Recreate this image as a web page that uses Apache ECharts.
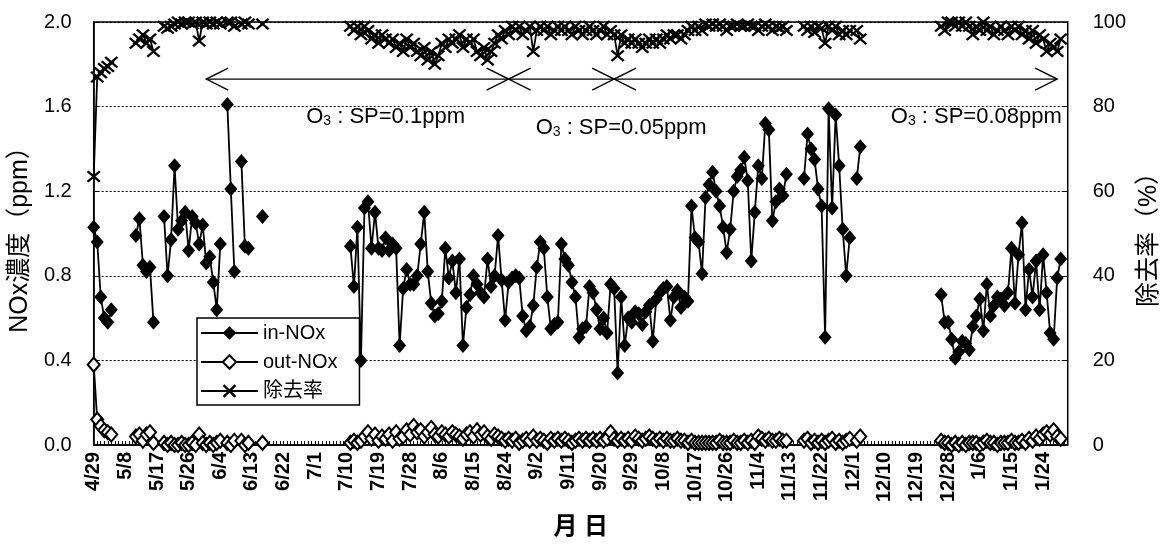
<!DOCTYPE html>
<html>
<head>
<meta charset="utf-8">
<title>NOx濃度と除去率</title>
<script src="https://cdn.jsdelivr.net/npm/echarts@6/dist/echarts.min.js"></script>
<style>
  html, body { margin: 0; padding: 0; background: #fff; }
  #chart { width: 1170px; height: 545px; }
</style>
</head>
<body>
<div id="chart"></div>
<script>
const FONT = "'Liberation Sans', Arial, 'Noto Sans CJK JP', sans-serif"

// one category per day, day 0 = 4/29
const dayCount = 278
const tickLabels = ['4/29', '5/8', '5/17', '5/26', '6/4', '6/13', '6/22', '7/1', '7/10', '7/19',
  '7/28', '8/6', '8/15', '8/24', '9/2', '9/11', '9/20', '9/29', '10/8', '10/17', '10/26',
  '11/4', '11/13', '11/22', '12/1', '12/10', '12/19', '12/28', '1/6', '1/15', '1/24']

// runs of daily values: [start day, values]
const inNOx = [
  [0, [1.03, 0.96, 0.70, 0.60, 0.58, 0.64]],
  [12, [0.99, 1.07, 0.85, 0.82, 0.84, 0.58]],
  [20, [1.08, 0.80, 0.97, 1.32, 1.02, 1.06, 1.10, 0.92, 1.08, 1.05, 0.95, 1.04, 0.86, 0.89, 0.77, 0.64, 0.95]],
  [38, [1.61, 1.21, 0.82]],
  [42, [1.34, 0.94, 0.93]],
  [48, [1.08]],
  [73, [0.94, 0.75, 1.03, 0.40, 1.12, 1.15, 0.93, 1.10, 0.93, 0.92,
        0.98, 0.92, 0.95, 0.93, 0.47, 0.74, 0.83, 0.76, 0.76, 0.80,
        0.95, 1.10, 0.82, 0.67, 0.61, 0.62, 0.68, 0.93, 0.79, 0.87,
        0.72, 0.88, 0.47, 0.65, 0.71, 0.80, 0.76, 0.72, 0.70, 0.88,
        0.75, 0.80, 0.99, 0.78, 0.59, 0.77, 0.79, 0.80, 0.79, 0.61,
        0.54, 0.56, 0.66, 0.84, 0.96, 0.93, 0.70, 0.55, 0.57, 0.58,
        0.95, 0.88, 0.85, 0.77, 0.70, 0.51, 0.55, 0.56, 0.75, 0.72,
        0.64, 0.55, 0.60, 0.53, 0.76, 0.74, 0.34, 0.70, 0.47, 0.60,
        0.58, 0.63, 0.62, 0.57, 0.63, 0.66, 0.49, 0.69, 0.72, 0.74,
        0.75, 0.59, 0.70, 0.73, 0.65, 0.70, 0.68, 1.13, 0.98, 0.96,
        0.81, 1.17, 1.23, 1.29, 1.20, 1.13, 1.03, 0.91, 1.02, 1.20,
        1.27, 1.30, 1.36, 1.25, 0.87, 1.10, 1.32, 1.26, 1.52, 1.49,
        1.06, 1.15, 1.21, 1.18, 1.28]],
  [202, [1.26, 1.47, 1.40, 1.35, 1.21, 1.13, 0.51, 1.59, 1.12, 1.56, 1.32, 1.02, 0.80, 0.98]],
  [217, [1.26, 1.41]],
  [241, [0.71, 0.58, 0.58, 0.50, 0.41, 0.44, 0.49, 0.48, 0.45, 0.56,
         0.61, 0.69, 0.54, 0.76, 0.61, 0.66, 0.70, 0.69, 0.66, 0.72,
         0.93, 0.67, 0.90, 1.05, 0.64, 0.83, 0.70, 0.87, 0.64, 0.90,
         0.72, 0.53, 0.50, 0.79, 0.88]]
]

const outNOx = [
  [0, [0.38, 0.12, 0.09, 0.07, 0.06, 0.05]],
  [12, [0.04, 0.05, 0.02, 0.05, 0.06, 0.01]],
  [20, [0.01, 0.00, 0.01, 0.00, 0.00, 0.01, 0.00, 0.00, 0.01, 0.00, 0.05, 0.01, 0.00, 0.01, 0.00, 0.01, 0.02]],
  [38, [0.01, 0.00, 0.02]],
  [42, [0.02, 0.00, 0.01]],
  [48, [0.01]],
  [73, [0.01, 0.02, 0.01, 0.02, 0.04, 0.06, 0.03, 0.05, 0.02, 0.04,
        0.03, 0.05, 0.02, 0.06, 0.03, 0.04, 0.07, 0.05, 0.09, 0.06,
        0.07, 0.04, 0.06, 0.08, 0.05, 0.04, 0.06, 0.05, 0.04, 0.06,
        0.05, 0.04, 0.03, 0.05, 0.06, 0.04, 0.07, 0.05, 0.06, 0.04,
        0.03, 0.05, 0.04, 0.03, 0.02, 0.03, 0.02, 0.03, 0.01, 0.02,
        0.03, 0.02, 0.04, 0.02, 0.03, 0.02, 0.01, 0.03, 0.02, 0.03,
        0.02, 0.03, 0.02, 0.01, 0.02, 0.03, 0.02, 0.03, 0.02, 0.03,
        0.02, 0.03, 0.02, 0.03, 0.06, 0.03, 0.02, 0.03, 0.02, 0.03,
        0.02, 0.04, 0.03, 0.02, 0.03, 0.04, 0.03, 0.02, 0.03, 0.02,
        0.03, 0.02, 0.02, 0.03, 0.02, 0.02, 0.01, 0.02, 0.01, 0.01,
        0.01, 0.01, 0.01, 0.01, 0.01, 0.02, 0.01, 0.01, 0.01, 0.02,
        0.01, 0.01, 0.02, 0.01, 0.02, 0.01, 0.04, 0.03, 0.02, 0.03,
        0.02, 0.02, 0.03, 0.02, 0.02]],
  [202, [0.02, 0.03, 0.01, 0.02, 0.01, 0.02, 0.01, 0.02, 0.03, 0.01, 0.02, 0.01, 0.02, 0.03]],
  [217, [0.02, 0.04]],
  [241, [0.02, 0.01, 0.01, 0.00, 0.01, 0.00, 0.01, 0.00, 0.01, 0.01,
         0.01, 0.00, 0.01, 0.02, 0.01, 0.01, 0.00, 0.01, 0.01, 0.01,
         0.02, 0.01, 0.01, 0.02, 0.01, 0.03, 0.02, 0.04, 0.03, 0.05,
         0.06, 0.05, 0.07, 0.04, 0.03]]
]

const removal = [
  [0, [63.5, 87, 88, 89, 89.5, 90.5]],
  [12, [95, 96, 97, 95, 96, 93]],
  [20, [99, 98.5, 99, 99.5, 100, 99.5, 100, 100, 99.5, 100, 95.5, 100, 99.5, 100, 99.5, 100, 99.5]],
  [38, [100, 100, 99]],
  [42, [99.5, 100, 99.5]],
  [48, [99.5]],
  [73, [99, 98, 99, 97, 99, 98, 96, 97, 95, 97,
        96, 95, 96, 94, 95, 93, 96, 94, 95, 93,
        92, 94, 91, 93, 90, 92, 95, 94, 96, 95,
        96, 97, 94, 96, 95, 96, 93, 92, 94, 91,
        93, 95, 97, 96, 98, 97, 99, 98, 99, 97,
        98, 99, 93, 98, 99, 98, 99, 97, 98, 99,
        98, 99, 98, 97, 99, 98, 97, 98, 99, 98,
        97, 98, 99, 97, 98, 97, 92, 97, 95, 96,
        95, 96, 95, 94, 95, 96, 95, 96, 95, 96,
        97, 96, 97, 97, 96, 97, 98, 99, 98, 99,
        98, 99.5, 99, 99.5, 99, 99.5, 99, 98, 99, 99,
        99.5, 99, 99, 99.5, 99, 99, 98, 99, 99.5, 99,
        98, 99, 98.5, 99, 98]],
  [202, [99, 98, 99, 97.5, 99, 98.5, 95, 99, 98, 99, 97, 98, 97, 98]],
  [217, [98, 96]],
  [241, [99, 98, 100, 100, 99, 100, 99, 100, 99, 97,
         99, 98, 100, 98, 99, 97, 98, 99, 98, 97,
         99, 98, 99, 97, 98, 96, 98, 95, 97, 96,
         93, 95, 94, 93, 96]]
]

// O3 set-point periods (day ranges) and their labels
const periods = [[32, 118], [118, 148], [148, 274]]
const periodLabels = ['0.1ppm', '0.05ppm', '0.08ppm']
const labelDays = [83, 150, 251]
const labelLevels = [1.55, 1.50, 1.55]
const arrowLevel = 1.73

function expand(runs) {
  const arr = new Array(dayCount).fill(null)
  runs.forEach(([start, vals]) => vals.forEach((v, i) => { arr[start + i] = v }))
  return arr
}

const days = []
for (let i = 0; i < dayCount; i++) days.push(i)

const xMark = 'path://M0,1.5L1.5,0L6,4.5L10.5,0L12,1.5L7.5,6L12,10.5L10.5,12L6,7.5L1.5,12L0,10.5L4.5,6Z'

const chart = echarts.init(document.getElementById('chart'))

chart.setOption({
  animation: false,
  backgroundColor: '#fff',
  textStyle: { fontFamily: FONT, color: '#000' },
  grid: {
    left: 93, right: 98, top: 22, bottom: 100,
    show: true, borderColor: '#000', borderWidth: 1.5
  },
  legend: {
    orient: 'vertical',
    left: 197,
    top: 318,
    itemWidth: 57,
    itemHeight: 17,
    itemGap: 9,
    padding: [5, 22, 4, 3],
    borderColor: '#000',
    borderWidth: 1.5,
    backgroundColor: '#fff',
    textStyle: { fontSize: 20, lineHeight: 20, color: '#000', fontFamily: FONT },
    data: ['in-NOx', 'out-NOx', '除去率']
  },
  xAxis: {
    type: 'category',
    data: days,
    boundaryGap: false,
    name: '月 日',
    nameLocation: 'middle',
    nameGap: 70,
    nameTextStyle: { fontSize: 24, fontWeight: 'bold', color: '#000' },
    axisLine: { lineStyle: { color: '#000', width: 1.5 } },
    axisTick: { inside: true, length: 4, interval: 0, lineStyle: { color: '#000' } },
    axisLabel: {
      interval: 8,
      rotate: 90,
      margin: 7,
      fontSize: 20,
      fontWeight: 'bold',
      color: '#000',
      formatter: (v, i) => tickLabels[i / 9] || ''
    },
    splitLine: { show: false }
  },
  yAxis: [{
    type: 'value',
    min: 0, max: 2.0, interval: 0.4,
    name: 'NOx濃度（ppm）',
    nameLocation: 'middle',
    nameRotate: 90,
    nameGap: 58,
    nameTextStyle: { fontSize: 25, color: '#000' },
    axisLine: { show: true, lineStyle: { color: '#000', width: 1.5 } },
    axisTick: { show: true, inside: true, length: 5, lineStyle: { color: '#000' } },
    axisLabel: { fontSize: 20, margin: 22, color: '#000', formatter: v => v.toFixed(1) },
    splitLine: { show: true, lineStyle: { color: '#000', type: [2, 2], width: 1 } }
  }, {
    type: 'value',
    min: 0, max: 100, interval: 20,
    position: 'right',
    name: '除去率（%）',
    nameLocation: 'middle',
    nameRotate: 90,
    nameGap: 66,
    nameTextStyle: { fontSize: 25, color: '#000' },
    axisLine: { show: true, lineStyle: { color: '#000', width: 1 } },
    axisTick: { show: true, inside: true, length: 5, lineStyle: { color: '#000' } },
    axisLabel: { fontSize: 20, margin: 25, color: '#000' },
    splitLine: { show: false }
  }],
  series: [{
    name: 'out-NOx',
    type: 'line',
    data: expand(outNOx),
    showAllSymbol: true,
    symbol: 'diamond',
    symbolSize: [12, 14],
    lineStyle: { color: '#000', width: 1.8 },
    itemStyle: { color: '#fff', borderColor: '#000', borderWidth: 2 },
    z: 3
  }, {
    name: 'in-NOx',
    type: 'line',
    data: expand(inNOx),
    showAllSymbol: true,
    symbol: 'diamond',
    symbolSize: [13, 15],
    lineStyle: { color: '#000', width: 1.8 },
    itemStyle: { color: '#000' },
    z: 4
  }, {
    name: '除去率',
    type: 'line',
    yAxisIndex: 1,
    data: expand(removal),
    showAllSymbol: true,
    symbol: xMark,
    symbolSize: [14, 12],
    lineStyle: { color: '#000', width: 1.8 },
    itemStyle: { color: '#000' },
    z: 5
  }]
})

// set-point arrows and labels, placed in data coordinates
const px = (d, v) => chart.convertToPixel({ xAxisIndex: 0, yAxisIndex: 0 }, [d, v])
const graphics = []
periods.forEach(([a, b]) => {
  const p0 = px(a, arrowLevel)
  const p1 = px(b, arrowLevel)
  const y = p0[1]
  const line = { stroke: '#000', lineWidth: 1.4, fill: null }
  graphics.push({ type: 'polyline', shape: { points: [[p0[0], y], [p1[0], y]] }, style: line, z: 10 })
  graphics.push({ type: 'polyline', shape: { points: [[p0[0] + 22, y - 11], [p0[0], y], [p0[0] + 22, y + 11]] }, style: line, z: 10 })
  graphics.push({ type: 'polyline', shape: { points: [[p1[0] - 22, y - 11], [p1[0], y], [p1[0] - 22, y + 11]] }, style: line, z: 10 })
})
periodLabels.forEach((t, i) => {
  const p = px(labelDays[i], labelLevels[i])
  graphics.push({
    type: 'text',
    x: p[0], y: p[1],
    z: 10,
    style: {
      text: '{a|O}{b|3}{a| : SP=' + t + '}',
      align: 'center', verticalAlign: 'middle',
      textAlign: 'center', textVerticalAlign: 'middle',
      fill: '#000',
      rich: {
        a: { fontSize: 22, fontFamily: FONT, lineHeight: 24 },
        b: { fontSize: 14, fontFamily: FONT, lineHeight: 24, padding: [8, 0, 0, 0] }
      }
    }
  })
})
chart.setOption({ graphic: graphics })
</script>
</body>
</html>
